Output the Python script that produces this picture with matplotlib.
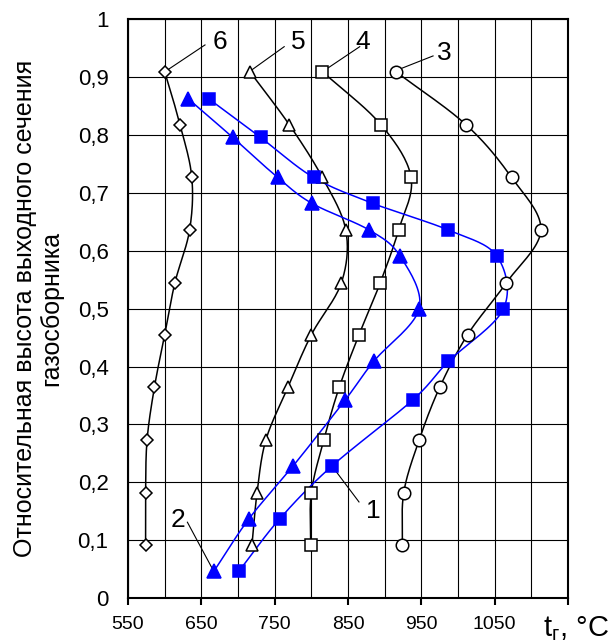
import numpy as np
import matplotlib
matplotlib.use("Agg")
import matplotlib.pyplot as plt

plt.rcParams['font.family'] = ['Liberation Sans', 'DejaVu Sans']

# relative height of the gas collector outlet section
h_black = [0.091, 0.182, 0.273, 0.364, 0.455, 0.545, 0.636, 0.727, 0.818, 0.910]
h_blue = [0.046, 0.137, 0.228, 0.342, 0.409, 0.500, 0.591, 0.636, 0.682, 0.727, 0.796, 0.863]

# gas temperature, deg C
t3 = [924, 926, 947, 975, 1013, 1066, 1113, 1073, 1011, 915]
t4 = [799, 800, 817, 838, 865, 894, 919, 936, 895, 815]
t5 = [719, 726, 738, 768, 800, 841, 847, 815, 770, 716]
t6 = [574, 574, 576, 586, 600, 614, 634, 637, 621, 600]
t1 = [701, 757, 828, 938, 987, 1062, 1053, 987, 884, 803, 731, 660]
t2 = [667, 715, 775, 846, 885, 947, 921, 879, 801, 754, 693, 632]


def smooth(x, y, n=20):
    # Catmull-Rom curve through the points
    p = np.column_stack([x, y]).astype(float)
    p = np.vstack([2 * p[0] - p[1], p, 2 * p[-1] - p[-2]])
    out = []
    for i in range(1, len(p) - 2):
        p0, p1, p2, p3 = p[i - 1], p[i], p[i + 1], p[i + 2]
        s = np.linspace(0, 1, n)[:, None]
        c = 0.5 * ((2 * p1) + (-p0 + p2) * s + (2 * p0 - 5 * p1 + 4 * p2 - p3) * s ** 2
                   + (-p0 + 3 * p1 - 3 * p2 + p3) * s ** 3)
        out.append(c)
    c = np.vstack(out)
    return c[:, 0], c[:, 1]


fig = plt.figure(figsize=(6.13, 6.43), dpi=100)
ax = fig.add_axes([0.2088, 0.07, 0.7178, 0.8997])

series = [
    (t3, h_black, 'o', 'black', 'white', 9),
    (t4, h_black, 's', 'black', 'white', 8.5),
    (t5, h_black, '^', 'black', 'white', 9),
    (t6, h_black, 'D', 'black', 'white', 6),
    (t1, h_blue, 's', 'blue', 'blue', 9),
    (t2, h_blue, '^', 'blue', 'blue', 9.5),
]
for t, h, m, col, face, ms in series:
    sx, sy = smooth(t, h)
    ax.plot(sx, sy, color=col, lw=1.1, zorder=3)
    ax.plot(t, h, ls='none', marker=m, ms=ms, mfc=face, mec=col, mew=1.1, zorder=4)

ax.set_xlim(550, 1150)
ax.set_ylim(0, 1)
ax.set_xticks(np.arange(550, 1151, 50), minor=True)
ax.set_xticks(np.arange(550, 1151, 100))
ax.set_xticklabels(['550', '650', '750', '850', '950', '1050', ''])
ax.set_yticks(np.arange(0, 1.01, 0.1))
ax.set_yticklabels(['0', '0,1', '0,2', '0,3', '0,4', '0,5', '0,6', '0,7', '0,8', '0,9', '1'])
ax.grid(True, which='both', color='black', lw=0.8)
ax.tick_params(axis='x', which='major', direction='out', length=5, width=1.5,
               labelsize=14, pad=8)
ax.tick_params(axis='x', which='minor', length=0)
ax.tick_params(axis='y', length=0, labelsize=16, pad=14)
for sp in ax.spines.values():
    sp.set_linewidth(1.5)

ax.set_ylabel('Относительная высота выходного сечения\nгазосборника', fontsize=18,
              labelpad=10, linespacing=1.15)

ax.text(1161, -0.066, 't$_\\mathregular{г}$, °C', fontsize=21, ha='center', va='baseline',
        clip_on=False)

# curve numbers with leader lines
labels = [
    ('6', (603, 0.912), (655, 0.956), (675, 0.961)),
    ('5', (719, 0.913), (763, 0.953), (782, 0.961)),
    ('4', (819, 0.913), (866, 0.953), (870, 0.961)),
    ('3', (918, 0.913), (966, 0.937), (981, 0.942)),
    ('1', (830, 0.225), (865, 0.166), (884, 0.150)),
    ('2', (667, 0.046), (631, 0.131), (618, 0.135)),
]
for txt, (x0, y0), (x1, y1), (tx, ty) in labels:
    ax.plot([x0, x1], [y0, y1], color='black', lw=0.8, zorder=2)
    ax.text(tx, ty, txt, fontsize=19, ha='center', va='center')

fig.savefig('out.png', dpi=100)
